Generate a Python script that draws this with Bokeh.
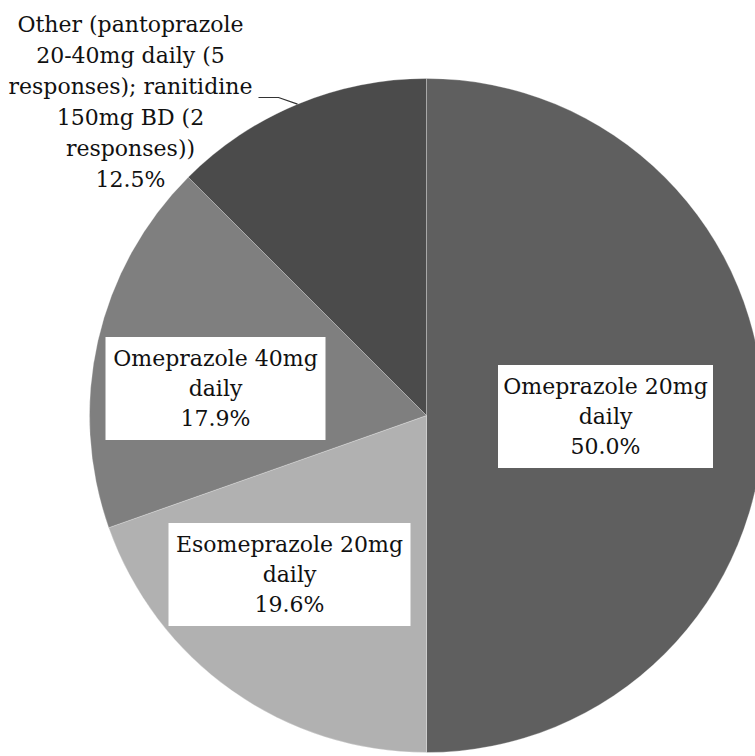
import math
from bokeh.plotting import figure
from bokeh.models import Range1d
from bokeh.core.properties import value
from bokeh.embed import file_html
from bokeh.resources import INLINE

# ---- data ----
categories = [
    "Omeprazole 20mg daily",
    "Esomeprazole 20mg daily",
    "Omeprazole 40mg daily",
    "Other (pantoprazole 20-40mg daily (5 responses); ranitidine 150mg BD (2 responses))",
]
values = [50.0, 19.6, 17.9, 12.5]
label_lines = [
    ["Omeprazole 20mg", "daily"],
    ["Esomeprazole 20mg", "daily"],
    ["Omeprazole 40mg", "daily"],
    ["Other (pantoprazole", "20-40mg daily (5", "responses); ranitidine",
     "150mg BD (2", "responses))"],
]
colors = ["#5f5f5f", "#b1b1b1", "#7f7f7f", "#4b4b4b"]

# ---- layout (image pixel coordinates, y down) ----
W, H = 755, 756
CX, CY_IMG, R = 426, 415, 337
CY = H - CY_IMG
label_layout = [  # (center x, center y, box width or None, line gap)
    (605, 416, 215, 30),
    (289, 574, 242, 30),
    (215, 388, 220, 30),
    (130, 101.5, None, 31),
]
BOX_H = 103
leader_pts_img = [(258, 97), (278, 97)]
FONT = "DejaVu Serif"
FSIZE = "22px"

p = figure(width=W, height=H, x_range=Range1d(0, W), y_range=Range1d(0, H),
           x_axis_type=None, y_axis_type=None, toolbar_location=None,
           output_backend="svg", min_border=0, background_fill_color="white",
           border_fill_color="white")
p.outline_line_color = None
p.grid.visible = False

total = sum(values)
cum = 0.0
mids = []
for v, c in zip(values, colors):
    start = math.pi / 2 - cum / total * 2 * math.pi
    end = math.pi / 2 - (cum + v) / total * 2 * math.pi
    p.wedge(x=[CX], y=[CY], radius=R, start_angle=[start], end_angle=[end],
            direction="clock", fill_color=c, line_color="white",
            line_width=0.8, line_alpha=0.35)
    mids.append(math.pi / 2 - (cum + v / 2) / total * 2 * math.pi)
    cum += v

# leader line for the "Other" slice
m = mids[3]
lx = [pt[0] for pt in leader_pts_img] + [CX + R * math.cos(m)]
ly = [H - pt[1] for pt in leader_pts_img] + [CY + R * math.sin(m)]
p.line(lx, ly, line_color="#333333", line_width=1.2)

for i, (lines, v) in enumerate(zip(label_lines, values)):
    cx, cy, bw, gap = label_layout[i]
    if bw is not None:
        p.quad(left=[cx - bw / 2], right=[cx + bw / 2],
               top=[H - (cy - BOX_H / 2)], bottom=[H - (cy + BOX_H / 2)],
               fill_color="white", line_color=None)
    all_lines = lines + [f"{v:.1f}%"]
    n = len(all_lines)
    ys = [H - (cy + (k - (n - 1) / 2) * gap) for k in range(n)]
    p.text(x=[cx] * n, y=ys, text=all_lines, text_align="center",
           text_baseline="middle", text_font=value(FONT),
           text_font_size=FSIZE, text_color="#111111")

open("out.html", "w").write(file_html(p, INLINE))
